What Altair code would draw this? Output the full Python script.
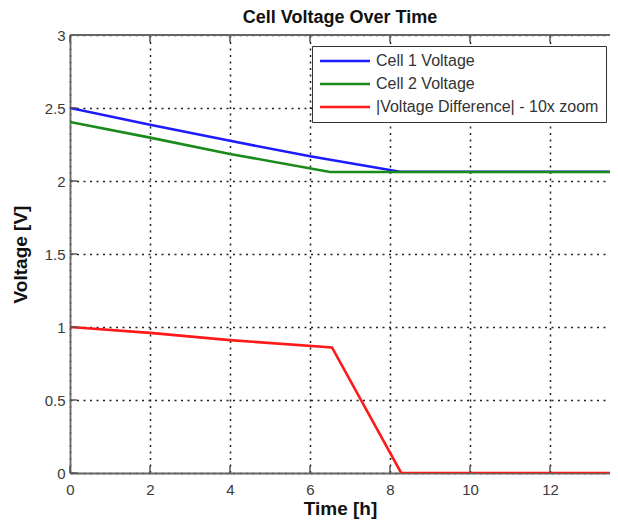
import altair as alt
import pandas as pd

# ---- data ----
series_names = ["Cell 1 Voltage", "Cell 2 Voltage", "|Voltage Difference| - 10x zoom"]
series_colors = ["#1c1cff", "#1a8a1a", "#ff1a1a"]

cell1_time = [0, 2, 4, 6, 8.25, 13.5]
cell1_volt = [2.5, 2.385, 2.275, 2.17, 2.063, 2.063]

cell2_time = [0, 2, 4, 6.5, 13.5]
cell2_volt = [2.404, 2.297, 2.185, 2.062, 2.062]

diff_time = [0, 2, 4, 6.55, 8.28, 13.5]
diff_volt = [1.0, 0.96, 0.91, 0.86, 0.0, 0.0]

x_ticks = [0, 2, 4, 6, 8, 10, 12]
y_ticks = [0, 0.5, 1, 1.5, 2, 2.5, 3]
x_domain = [0, 13.5]
y_domain = [0, 3]

W, H = 540, 438
FONT = "Liberation Sans"

rows = []
for name, ts, vs in zip(series_names,
                        [cell1_time, cell2_time, diff_time],
                        [cell1_volt, cell2_volt, diff_volt]):
    for i, (t, v) in enumerate(zip(ts, vs)):
        rows.append({"series": name, "time": t, "volt": v, "idx": i})
df = pd.DataFrame(rows)

x_scale = alt.Scale(domain=x_domain, nice=False, zero=False)
y_scale = alt.Scale(domain=y_domain, nice=False)

x_axis = alt.Axis(values=x_ticks, grid=True, gridColor="#222", gridDash=[2, 4.5], gridWidth=1.5,
                  gridOpacity=1, ticks=False, domainColor="#666", domainWidth=1.8,
                  labelFont=FONT, labelFontSize=15, labelColor="#3a3a3a", labelPadding=9,
                  title="Time [h]", titleFont=FONT, titleFontSize=19, titleFontWeight="bold",
                  titleColor="#111", titleY=41, titleBaseline="alphabetic", labelFlush=False)
y_axis = alt.Axis(values=y_ticks, grid=True, gridColor="#222", gridDash=[2, 4.5], gridWidth=1.5,
                  gridOpacity=1, ticks=False, domainColor="#666", domainWidth=1.8,
                  labelFont=FONT, labelFontSize=15, labelColor="#3a3a3a", labelPadding=5,
                  labelExpr="datum.value",
                  title="Voltage [V]", titleFont=FONT, titleFontSize=19, titleFontWeight="bold",
                  titleColor="#111", titleX=-50, titleY=H / 2, titleBaseline="middle",
                  titleAngle=-90, titleAlign="center")

legend = alt.Legend(orient="none", legendX=242, legendY=11, title=None,
                    symbolType="M-5,0H5", symbolSize=100, symbolStrokeWidth=2.6,
                    symbolOffset=18, labelOffset=23, labelLimit=400,
                    labelFont=FONT, labelFontSize=16, labelColor="#333",
                    strokeColor="#333", fillColor="white", padding=7, rowPadding=7)

lines = alt.Chart(df).mark_line(strokeWidth=2.6, clip=True).encode(
    x=alt.X("time:Q", scale=x_scale, axis=x_axis),
    y=alt.Y("volt:Q", scale=y_scale, axis=y_axis),
    color=alt.Color("series:N", sort=series_names,
                    scale=alt.Scale(domain=series_names, range=series_colors),
                    legend=legend),
    order="idx:Q",
)

# inward MATLAB-style tick marks and top border
xt = pd.DataFrame({"t": x_ticks})
yt = pd.DataFrame({"v": y_ticks})
tick_color = "#555"
bottom_ticks = alt.Chart(xt).mark_rule(color=tick_color, strokeWidth=1.5).encode(
    x=alt.X("t:Q", scale=x_scale, axis=x_axis), y=alt.value(H), y2=alt.value(H - 7))
top_ticks = alt.Chart(xt).mark_rule(color=tick_color, strokeWidth=1.5).encode(
    x=alt.X("t:Q", scale=x_scale, axis=x_axis), y=alt.value(0), y2=alt.value(7))
left_ticks = alt.Chart(yt).mark_rule(color=tick_color, strokeWidth=1.5).encode(
    y=alt.Y("v:Q", scale=y_scale, axis=y_axis), x=alt.value(0), x2=alt.value(7))
top_border = alt.Chart(xt).mark_rule(color="#666", strokeWidth=1.8).encode(
    x=alt.value(0), x2=alt.value(W), y=alt.value(0))

chart = alt.layer(lines, bottom_ticks, top_ticks, left_ticks, top_border).properties(
    width=W, height=H,
    title=alt.TitleParams("Cell Voltage Over Time", font=FONT, fontSize=18, fontWeight="bold",
                          color="#111", anchor="middle", baseline="alphabetic", offset=11, dy=24),
    autosize=alt.AutoSizeParams(type="none"),
    padding={"left": 62, "top": 27, "right": 0, "bottom": 46},
).configure_view(stroke=None).configure(background="white")

chart.save("out.html", embed_options={"renderer": "svg", "actions": False})
